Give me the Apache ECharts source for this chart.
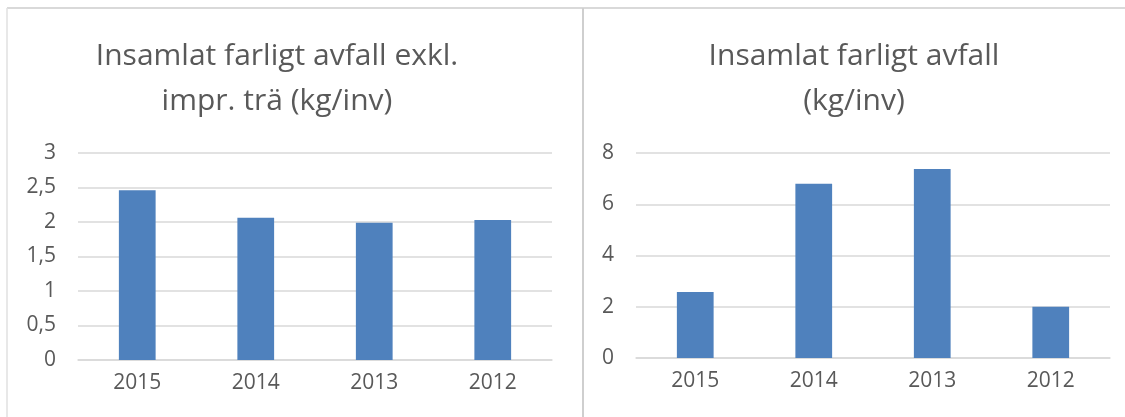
<!DOCTYPE html>
<html lang="sv">
<head>
    <meta charset="UTF-8">
    <script src="https://cdn.jsdelivr.net/npm/echarts@6.0.0/dist/echarts.min.js"></script>
    <title>Farligt avfall</title>
    <style>
        html, body { margin: 0; padding: 0; background: #fff; }
    </style>
</head>
<body>
    <div id="chart" style="width: 1125px;height:417px;"></div>
    <script>
        // data
        var years = ['2015', '2014', '2013', '2012'];
        var exklImpr = [2.46, 2.06, 1.99, 2.03];
        var totalt = [2.58, 6.8, 7.38, 2.0];
        var title1 = 'Insamlat farligt avfall exkl.\nimpr. trä (kg/inv)';
        var title2 = 'Insamlat farligt avfall\n(kg/inv)';

        var font = 'Open Sans';
        var textColor = '#595959';
        var gridColor = '#d9d9d9';
        var barColor = '#4f81bd';

        var chart = echarts.init(document.getElementById('chart'));

        function yAxis(gridIndex, max, interval) {
            return {
                type: 'value',
                gridIndex: gridIndex,
                min: 0,
                max: max,
                interval: interval,
                axisLine: { show: false },
                axisTick: { show: false },
                axisLabel: {
                    color: textColor,
                    fontFamily: font,
                    fontSize: 21,
                    margin: 22,
                    formatter: function (v) { return String(v).replace('.', ','); }
                },
                splitLine: { lineStyle: { color: gridColor, width: 1.5 } }
            };
        }

        function xAxis(gridIndex) {
            return {
                type: 'category',
                gridIndex: gridIndex,
                data: years,
                axisLine: { lineStyle: { color: gridColor, width: 1.5 } },
                axisTick: { show: false },
                axisLabel: {
                    color: textColor,
                    fontFamily: font,
                    fontSize: 21,
                    margin: 13
                }
            };
        }

        var titleStyle = { color: textColor, fontFamily: font, fontSize: 30, fontWeight: 'normal', lineHeight: 45 };

        var option = {
            animation: false,
            title: [
                { text: title1, left: 272, top: 29, textAlign: 'center', textStyle: titleStyle },
                { text: title2, left: 849, top: 29, textAlign: 'center', textStyle: titleStyle }
            ],
            grid: [
                { left: 78, right: 573, top: 153, bottom: 57 },
                { left: 636, right: 15, top: 153, bottom: 59 }
            ],
            xAxis: [xAxis(0), xAxis(1)],
            yAxis: [yAxis(0, 3, 0.5), yAxis(1, 8, 2)],
            series: [
                {
                    type: 'bar',
                    xAxisIndex: 0,
                    yAxisIndex: 0,
                    data: exklImpr,
                    barWidth: '31%',
                    itemStyle: { color: barColor }
                },
                {
                    type: 'bar',
                    xAxisIndex: 1,
                    yAxisIndex: 1,
                    data: totalt,
                    barWidth: '31%',
                    itemStyle: { color: barColor }
                }
            ],
            graphic: [
                // ramar runt diagrammen
                { type: 'line', shape: { x1: 7, y1: 8, x2: 1125, y2: 8 }, style: { stroke: '#d9d9d9', lineWidth: 2 } },
                { type: 'line', shape: { x1: 7, y1: 8, x2: 7, y2: 417 }, style: { stroke: '#e0e0e0', lineWidth: 1.5 } },
                { type: 'line', shape: { x1: 583, y1: 8, x2: 583, y2: 417 }, style: { stroke: '#cfcfcf', lineWidth: 2 } }
            ]
        };

        chart.setOption(option);
    </script>
</body>
</html>
